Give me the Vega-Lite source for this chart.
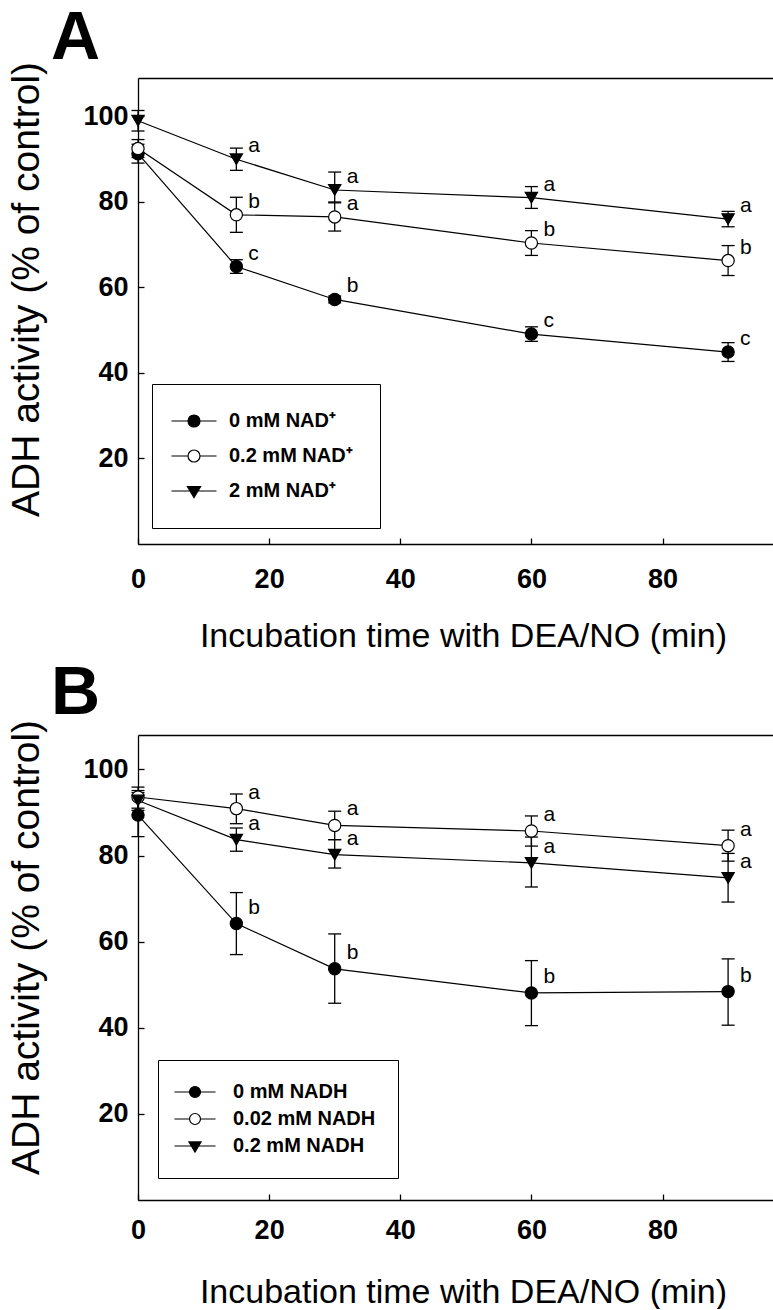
{
  "$schema": "https://vega.github.io/schema/vega-lite/v6.json",
  "padding": {"left": 7, "top": 5, "right": 0, "bottom": 0},
  "background": "white",
  "spacing": 7,
  "config": {
    "font": "Liberation Sans",
    "view": {"stroke": null},
    "axis": {"grid": false, "domainColor": "black", "domainWidth": 1.3, "tickColor": "black", "tickWidth": 1.3, "tickSize": -6, "labelColor": "black", "labelFont": "Liberation Sans", "labelFontWeight": "bold", "labelFontSize": 27, "labelFlush": false, "labelOverlap": false, "titleFont": "Liberation Sans", "titleFontWeight": "normal", "titleColor": "black"},
    "title": {"font": "Liberation Sans", "fontWeight": "bold", "fontSize": 68, "anchor": "start", "frame": "group", "color": "black"}
  },
  "datasets": {
    "A": [
      {"series": "0 mM NAD⁺", "t": 0, "y": 91.3, "lo": 89.1, "hi": 93.5, "lab": ""},
      {"series": "0 mM NAD⁺", "t": 15, "y": 64.9, "lo": 63.3, "hi": 66.5, "lab": "c"},
      {"series": "0 mM NAD⁺", "t": 30, "y": 57.2, "lo": 56.4, "hi": 58.0, "lab": "b"},
      {"series": "0 mM NAD⁺", "t": 60, "y": 49.1, "lo": 47.4, "hi": 50.8, "lab": "c"},
      {"series": "0 mM NAD⁺", "t": 90, "y": 44.9, "lo": 42.7, "hi": 47.1, "lab": "c"},
      {"series": "0.2 mM NAD⁺", "t": 0, "y": 92.5, "lo": 90.4, "hi": 94.6, "lab": ""},
      {"series": "0.2 mM NAD⁺", "t": 15, "y": 77.0, "lo": 72.9, "hi": 81.1, "lab": "b"},
      {"series": "0.2 mM NAD⁺", "t": 30, "y": 76.5, "lo": 73.2, "hi": 79.8, "lab": "a"},
      {"series": "0.2 mM NAD⁺", "t": 60, "y": 70.4, "lo": 67.5, "hi": 73.3, "lab": "b"},
      {"series": "0.2 mM NAD⁺", "t": 90, "y": 66.3, "lo": 62.8, "hi": 69.8, "lab": "b"},
      {"series": "2 mM NAD⁺", "t": 0, "y": 99.0, "lo": 96.6, "hi": 101.4, "lab": ""},
      {"series": "2 mM NAD⁺", "t": 15, "y": 90.0, "lo": 87.4, "hi": 92.6, "lab": "a"},
      {"series": "2 mM NAD⁺", "t": 30, "y": 82.8, "lo": 80.0, "hi": 87.0, "lab": "a"},
      {"series": "2 mM NAD⁺", "t": 60, "y": 81.0, "lo": 78.5, "hi": 83.6, "lab": "a"},
      {"series": "2 mM NAD⁺", "t": 90, "y": 76.0, "lo": 74.2, "hi": 77.8, "lab": "a"}
    ],
    "B": [
      {"series": "0 mM NADH", "t": 0, "y": 89.4, "lo": 84.4, "hi": 94.6, "lab": ""},
      {"series": "0 mM NADH", "t": 15, "y": 64.2, "lo": 57.0, "hi": 71.4, "lab": "b"},
      {"series": "0 mM NADH", "t": 30, "y": 53.7, "lo": 45.7, "hi": 61.8, "lab": "b"},
      {"series": "0 mM NADH", "t": 60, "y": 48.1, "lo": 40.5, "hi": 55.6, "lab": "b"},
      {"series": "0 mM NADH", "t": 90, "y": 48.4, "lo": 40.6, "hi": 56.0, "lab": "b"},
      {"series": "0.02 mM NADH", "t": 0, "y": 93.6, "lo": 91.0, "hi": 95.9, "lab": ""},
      {"series": "0.02 mM NADH", "t": 15, "y": 90.9, "lo": 87.4, "hi": 94.3, "lab": "a"},
      {"series": "0.02 mM NADH", "t": 30, "y": 87.0, "lo": 83.7, "hi": 90.3, "lab": "a"},
      {"series": "0.02 mM NADH", "t": 60, "y": 85.7, "lo": 82.2, "hi": 89.2, "lab": "a"},
      {"series": "0.02 mM NADH", "t": 90, "y": 82.3, "lo": 78.7, "hi": 85.9, "lab": "a"},
      {"series": "0.2 mM NADH", "t": 0, "y": 92.8, "lo": 90.5, "hi": 95.1, "lab": ""},
      {"series": "0.2 mM NADH", "t": 15, "y": 83.7, "lo": 81.0, "hi": 86.4, "lab": "a"},
      {"series": "0.2 mM NADH", "t": 30, "y": 80.2, "lo": 77.1, "hi": 83.7, "lab": "a"},
      {"series": "0.2 mM NADH", "t": 60, "y": 78.3, "lo": 72.7, "hi": 84.3, "lab": "a"},
      {"series": "0.2 mM NADH", "t": 90, "y": 74.8, "lo": 69.2, "hi": 80.5, "lab": "a"}
    ]
  },
  "vconcat": [
    {
      "title": {"text": "A", "dx": -87, "offset": -12},
      "width": 636,
      "height": 466,
      "data": {"name": "A"},
      "encoding": {
        "x": {"field": "t", "type": "quantitative", "scale": {"domain": [0, 97], "nice": false}, "axis": null},
        "y": {"field": "y", "type": "quantitative", "scale": {"domain": [0, 109], "nice": false}, "axis": null}
      },
      "layer": [
        {
          "mark": {"type": "line", "color": "black", "strokeWidth": 1.2},
          "encoding": {
            "x": {"field": "t", "type": "quantitative", "scale": {"domain": [0, 97], "nice": false}, "axis": {"values": [0, 20, 40, 60, 80], "labelPadding": 28, "title": "Incubation time with DEA/NO (min)", "titleFontSize": 34, "titlePadding": 27, "titleX": 325}},
            "y": {"field": "y", "type": "quantitative", "scale": {"domain": [0, 109], "nice": false}, "axis": {"values": [20, 40, 60, 80, 100], "labelPadding": 16, "title": "ADH activity (% of control)", "titleFontSize": 39, "titlePadding": 36, "titleY": 211}},
            "detail": {"field": "series", "type": "nominal"}
          }
        },
        {
          "mark": {"type": "rule", "color": "black", "strokeWidth": 1.3},
          "encoding": {
            "y": {"field": "lo", "type": "quantitative", "scale": {"domain": [0, 109], "nice": false}, "axis": null},
            "y2": {"field": "hi"}
          }
        },
        {
          "mark": {"type": "tick", "orient": "horizontal", "size": 13, "thickness": 1.3, "color": "black", "opacity": 1},
          "encoding": {"y": {"field": "lo", "type": "quantitative", "scale": {"domain": [0, 109], "nice": false}, "axis": null}}
        },
        {
          "mark": {"type": "tick", "orient": "horizontal", "size": 13, "thickness": 1.3, "color": "black", "opacity": 1},
          "encoding": {"y": {"field": "hi", "type": "quantitative", "scale": {"domain": [0, 109], "nice": false}, "axis": null}}
        },
        {
          "mark": {"type": "point", "filled": true, "size": 150, "stroke": "black", "strokeWidth": 1.2, "opacity": 1},
          "encoding": {
            "shape": {"field": "series", "type": "nominal", "scale": {"domain": ["0 mM NAD⁺", "0.2 mM NAD⁺", "2 mM NAD⁺"], "range": ["circle", "circle", "triangle-down"]}, "legend": null},
            "fill": {"field": "series", "type": "nominal", "scale": {"domain": ["0 mM NAD⁺", "0.2 mM NAD⁺", "2 mM NAD⁺"], "range": ["black", "white", "black"]}, "legend": null}
          }
        },
        {
          "mark": {"type": "text", "align": "left", "baseline": "middle", "dx": 12, "dy": -13, "fontSize": 21, "font": "Liberation Sans", "color": "black"},
          "encoding": {"text": {"field": "lab", "type": "nominal"}}
        },
        {
          "mark": {"type": "point", "filled": true, "opacity": 0, "strokeWidth": 1.2},
          "encoding": {
            "x": {"field": "t", "type": "quantitative", "scale": {"domain": [0, 97], "nice": false}, "axis": {"orient": "top", "labels": false, "ticks": false, "title": null, "domain": true}},
            "shape": {"field": "series", "type": "nominal", "scale": {"domain": ["0 mM NAD⁺", "0.2 mM NAD⁺", "2 mM NAD⁺"], "range": ["M-3.75,0H-1M1,0H3.75M1,0A1,1,0,1,1,-1,0A1,1,0,1,1,1,0Z", "M-3.75,0H-1M1,0H3.75M1,0A1,1,0,1,1,-1,0A1,1,0,1,1,1,0Z", "M-3.75,0H-0.6M0.6,0H3.75M-1.1,-0.75L1.1,-0.75L0,1.1Z"]},
              "legend": {"title": null, "orient": "none", "legendX": 14, "legendY": 306, "strokeColor": "black", "fillColor": "white", "padding": 27, "rowPadding": 15, "symbolSize": 144, "symbolOffset": 5, "symbolStrokeWidth": 1.2, "symbolOpacity": 1, "labelFont": "Liberation Sans", "labelFontWeight": "bold", "labelFontSize": 20, "labelColor": "black", "labelOffset": 25, "labelLimit": 400}},
            "fill": {"field": "series", "type": "nominal", "scale": {"domain": ["0 mM NAD⁺", "0.2 mM NAD⁺", "2 mM NAD⁺"], "range": ["black", "white", "black"]},
              "legend": {"title": null, "orient": "none", "legendX": 14, "legendY": 306, "strokeColor": "black", "fillColor": "white", "padding": 27, "rowPadding": 15, "symbolSize": 144, "symbolOffset": 5, "symbolStrokeWidth": 1.2, "symbolOpacity": 1, "labelFont": "Liberation Sans", "labelFontWeight": "bold", "labelFontSize": 20, "labelColor": "black", "labelOffset": 25, "labelLimit": 400}},
            "stroke": {"field": "series", "type": "nominal", "scale": {"domain": ["0 mM NAD⁺", "0.2 mM NAD⁺", "2 mM NAD⁺"], "range": ["black", "black", "black"]},
              "legend": {"title": null, "orient": "none", "legendX": 14, "legendY": 306, "strokeColor": "black", "fillColor": "white", "padding": 27, "rowPadding": 15, "symbolSize": 144, "symbolOffset": 5, "symbolStrokeWidth": 1.2, "symbolOpacity": 1, "labelFont": "Liberation Sans", "labelFontWeight": "bold", "labelFontSize": 20, "labelColor": "black", "labelOffset": 25, "labelLimit": 400}}
          }
        }
      ],
      "resolve": {"scale": {"shape": "independent", "fill": "independent", "stroke": "independent"}, "axis": {"x": "independent", "y": "independent"}}
    },
    {
      "title": {"text": "B", "dx": -87, "offset": -9},
      "width": 636,
      "height": 465,
      "data": {"name": "B"},
      "encoding": {
        "x": {"field": "t", "type": "quantitative", "scale": {"domain": [0, 97], "nice": false}, "axis": null},
        "y": {"field": "y", "type": "quantitative", "scale": {"domain": [0, 108], "nice": false}, "axis": null}
      },
      "layer": [
        {
          "mark": {"type": "line", "color": "black", "strokeWidth": 1.2},
          "encoding": {
            "x": {"field": "t", "type": "quantitative", "scale": {"domain": [0, 97], "nice": false}, "axis": {"values": [0, 20, 40, 60, 80], "labelPadding": 23, "title": "Incubation time with DEA/NO (min)", "titleFontSize": 34, "titlePadding": 32, "titleX": 325}},
            "y": {"field": "y", "type": "quantitative", "scale": {"domain": [0, 108], "nice": false}, "axis": {"values": [20, 40, 60, 80, 100], "labelPadding": 16, "title": "ADH activity (% of control)", "titleFontSize": 39, "titlePadding": 36, "titleY": 212}},
            "detail": {"field": "series", "type": "nominal"}
          }
        },
        {
          "mark": {"type": "rule", "color": "black", "strokeWidth": 1.3},
          "encoding": {
            "y": {"field": "lo", "type": "quantitative", "scale": {"domain": [0, 108], "nice": false}, "axis": null},
            "y2": {"field": "hi"}
          }
        },
        {
          "mark": {"type": "tick", "orient": "horizontal", "size": 13, "thickness": 1.3, "color": "black", "opacity": 1},
          "encoding": {"y": {"field": "lo", "type": "quantitative", "scale": {"domain": [0, 108], "nice": false}, "axis": null}}
        },
        {
          "mark": {"type": "tick", "orient": "horizontal", "size": 13, "thickness": 1.3, "color": "black", "opacity": 1},
          "encoding": {"y": {"field": "hi", "type": "quantitative", "scale": {"domain": [0, 108], "nice": false}, "axis": null}}
        },
        {
          "mark": {"type": "point", "filled": true, "size": 150, "stroke": "black", "strokeWidth": 1.2, "opacity": 1},
          "encoding": {
            "shape": {"field": "series", "type": "nominal", "scale": {"domain": ["0 mM NADH", "0.02 mM NADH", "0.2 mM NADH"], "range": ["circle", "circle", "triangle-down"]}, "legend": null},
            "fill": {"field": "series", "type": "nominal", "scale": {"domain": ["0 mM NADH", "0.02 mM NADH", "0.2 mM NADH"], "range": ["black", "white", "black"]}, "legend": null}
          }
        },
        {
          "mark": {"type": "text", "align": "left", "baseline": "middle", "dx": 12, "dy": -16, "fontSize": 21, "font": "Liberation Sans", "color": "black"},
          "encoding": {"text": {"field": "lab", "type": "nominal"}}
        },
        {
          "mark": {"type": "point", "filled": true, "opacity": 0, "strokeWidth": 1.2},
          "encoding": {
            "x": {"field": "t", "type": "quantitative", "scale": {"domain": [0, 97], "nice": false}, "axis": {"orient": "top", "labels": false, "ticks": false, "title": null, "domain": true}},
            "shape": {"field": "series", "type": "nominal", "scale": {"domain": ["0 mM NADH", "0.02 mM NADH", "0.2 mM NADH"], "range": ["M-3.75,0H-1M1,0H3.75M1,0A1,1,0,1,1,-1,0A1,1,0,1,1,1,0Z", "M-3.75,0H-1M1,0H3.75M1,0A1,1,0,1,1,-1,0A1,1,0,1,1,1,0Z", "M-3.75,0H-0.6M0.6,0H3.75M-1.1,-0.75L1.1,-0.75L0,1.1Z"]},
              "legend": {"title": null, "orient": "none", "legendX": 20, "legendY": 325, "strokeColor": "black", "fillColor": "white", "padding": 22, "rowPadding": 7, "symbolSize": 120, "symbolOffset": 5, "symbolStrokeWidth": 1.2, "symbolOpacity": 1, "labelFont": "Liberation Sans", "labelFontWeight": "bold", "labelFontSize": 20, "labelColor": "black", "labelOffset": 28, "labelLimit": 400}},
            "fill": {"field": "series", "type": "nominal", "scale": {"domain": ["0 mM NADH", "0.02 mM NADH", "0.2 mM NADH"], "range": ["black", "white", "black"]},
              "legend": {"title": null, "orient": "none", "legendX": 20, "legendY": 325, "strokeColor": "black", "fillColor": "white", "padding": 22, "rowPadding": 7, "symbolSize": 120, "symbolOffset": 5, "symbolStrokeWidth": 1.2, "symbolOpacity": 1, "labelFont": "Liberation Sans", "labelFontWeight": "bold", "labelFontSize": 20, "labelColor": "black", "labelOffset": 28, "labelLimit": 400}},
            "stroke": {"field": "series", "type": "nominal", "scale": {"domain": ["0 mM NADH", "0.02 mM NADH", "0.2 mM NADH"], "range": ["black", "black", "black"]},
              "legend": {"title": null, "orient": "none", "legendX": 20, "legendY": 325, "strokeColor": "black", "fillColor": "white", "padding": 22, "rowPadding": 7, "symbolSize": 120, "symbolOffset": 5, "symbolStrokeWidth": 1.2, "symbolOpacity": 1, "labelFont": "Liberation Sans", "labelFontWeight": "bold", "labelFontSize": 20, "labelColor": "black", "labelOffset": 28, "labelLimit": 400}}
          }
        }
      ],
      "resolve": {"scale": {"shape": "independent", "fill": "independent", "stroke": "independent"}, "axis": {"x": "independent", "y": "independent"}}
    }
  ]
}
